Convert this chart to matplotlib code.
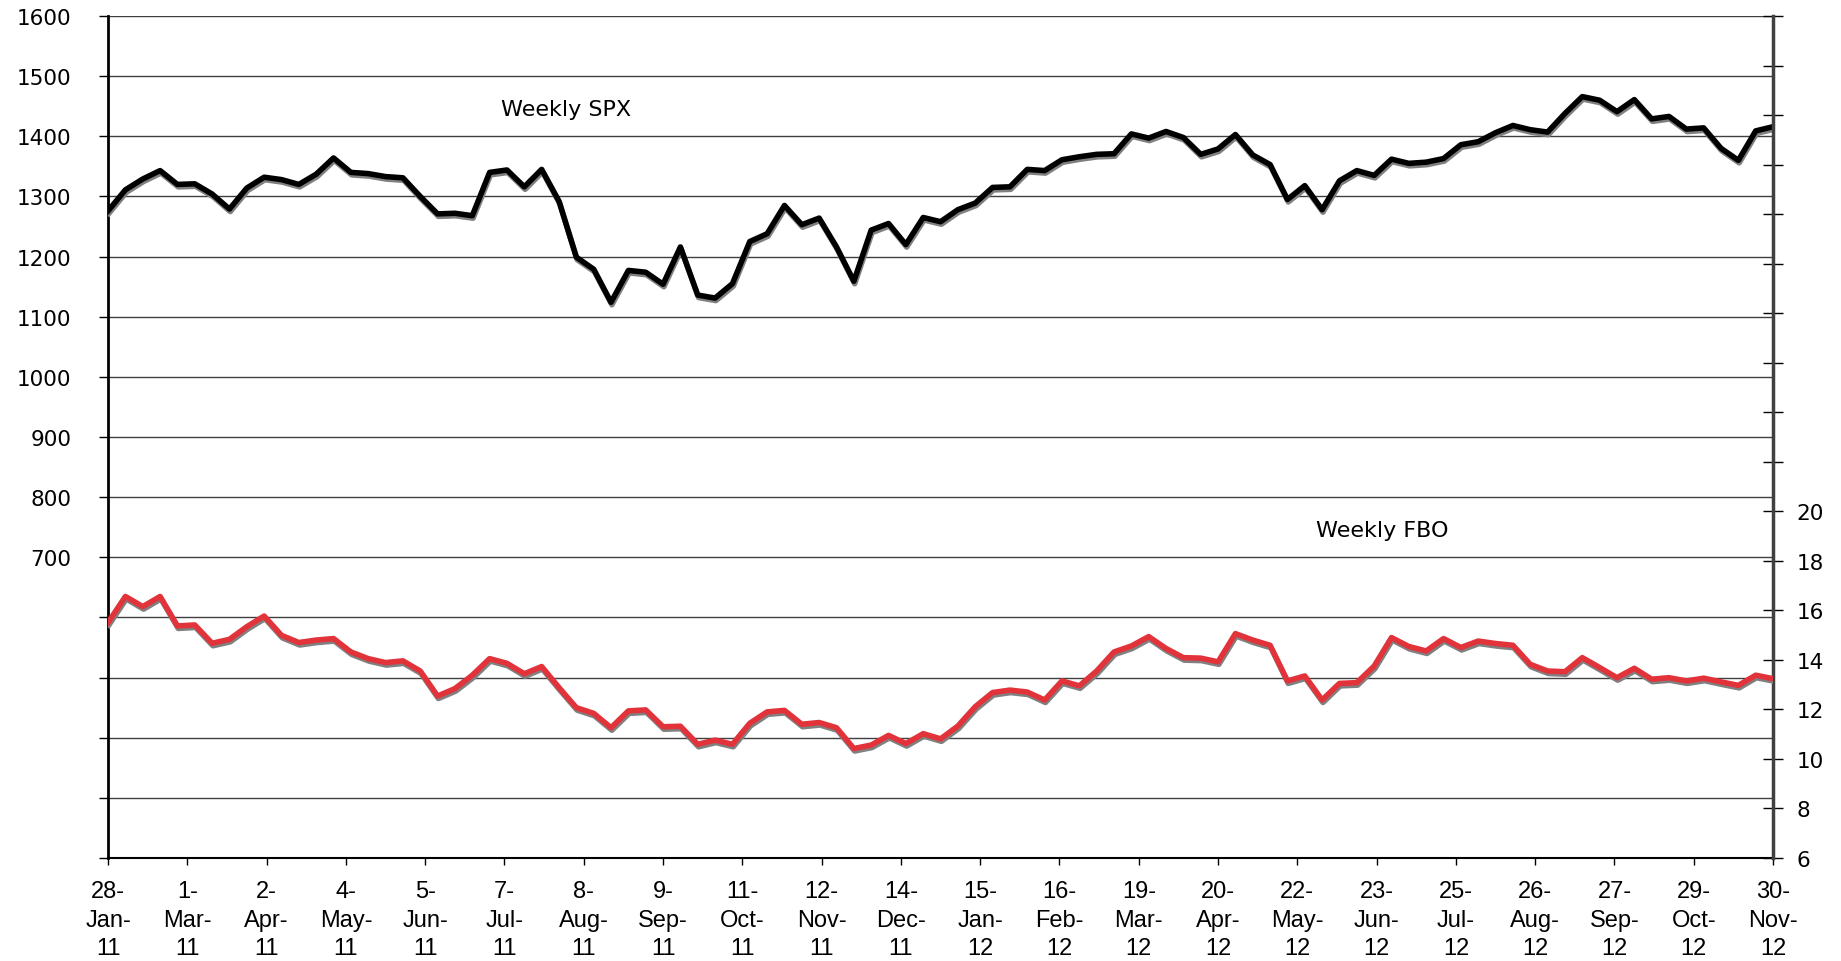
import numpy as np
import pandas as pd
import matplotlib
matplotlib.use("Agg")
import matplotlib.pyplot as plt
import matplotlib.patheffects as pe

# weekly closes, Fridays 28-Jan-11 .. 30-Nov-12
weeks = pd.date_range("2011-01-28", "2012-11-30", freq="7D")

spx = [1276, 1311, 1329, 1343, 1320, 1321, 1304, 1279, 1314, 1332,
       1328, 1320, 1337, 1364, 1340, 1338, 1333, 1331, 1300, 1271,
       1272, 1268, 1340, 1344, 1316, 1345, 1292, 1199, 1179, 1124,
       1177, 1174, 1154, 1216, 1136, 1131, 1155, 1225, 1238, 1285,
       1253, 1264, 1216, 1159, 1244, 1255, 1220, 1265, 1258, 1278,
       1289, 1315, 1316, 1345, 1343, 1361, 1366, 1370, 1371, 1404,
       1397, 1408, 1398, 1370, 1379, 1403, 1369, 1353, 1295, 1318,
       1278, 1326, 1343, 1335, 1362, 1355, 1357, 1363, 1386, 1391,
       1406, 1418, 1411, 1407, 1438, 1466, 1460, 1441, 1461, 1429,
       1433, 1412, 1414, 1380, 1360, 1409, 1416]

fbo = [15.51, 16.56, 16.15, 16.56, 15.37, 15.41, 14.67, 14.83, 15.34, 15.77,
       14.99, 14.70, 14.80, 14.86, 14.32, 14.05, 13.89, 13.96, 13.55, 12.54,
       12.84, 13.38, 14.05, 13.86, 13.44, 13.73, 12.88, 12.07, 11.84, 11.26,
       11.94, 11.98, 11.30, 11.32, 10.59, 10.76, 10.59, 11.44, 11.90, 11.96,
       11.40, 11.47, 11.26, 10.42, 10.56, 10.95, 10.62, 11.02, 10.81, 11.33,
       12.11, 12.68, 12.78, 12.70, 12.38, 13.15, 12.95, 13.55, 14.32, 14.56,
       14.94, 14.46, 14.09, 14.07, 13.92, 15.06, 14.80, 14.59, 13.15, 13.35,
       12.38, 13.05, 13.08, 13.75, 14.90, 14.54, 14.36, 14.86, 14.50, 14.76,
       14.66, 14.59, 13.82, 13.55, 13.52, 14.09, 13.69, 13.28, 13.66, 13.22,
       13.28, 13.15, 13.26, 13.11, 12.97, 13.38, 13.24]

tick_dates = pd.date_range("2011-01-28", "2012-11-30", freq="32D")
tick_labels = ["28-\nJan-\n11", "1-\nMar-\n11", "2-\nApr-\n11", "4-\nMay-\n11",
               "5-\nJun-\n11", "7-\nJul-\n11", "8-\nAug-\n11", "9-\nSep-\n11",
               "11-\nOct-\n11", "12-\nNov-\n11", "14-\nDec-\n11", "15-\nJan-\n12",
               "16-\nFeb-\n12", "19-\nMar-\n12", "20-\nApr-\n12", "22-\nMay-\n12",
               "23-\nJun-\n12", "25-\nJul-\n12", "26-\nAug-\n12", "27-\nSep-\n12",
               "29-\nOct-\n12", "30-\nNov-\n12"]

left_ticks = np.arange(200, 1601, 100)
right_ticks = np.arange(6, 41, 2)

shadow = [pe.SimpleLineShadow(offset=(0.6, -1.8), shadow_color="#808080", alpha=1.0),
          pe.Normal()]

fig = plt.figure(figsize=(18.41, 9.62), dpi=100)
ax = fig.add_axes([0.0587, 0.1071, 0.9044, 0.8752])
ax2 = ax.twinx()

ax.plot(weeks, spx, color="black", lw=4.0, path_effects=shadow, zorder=3)
ax2.plot(weeks, fbo, color="#e2323a", lw=4.0, path_effects=shadow, zorder=3)

ax.set_xlim(weeks[0], weeks[-1])
ax.set_ylim(200, 1600)
ax2.set_ylim(6, 40)

ax.set_yticks(left_ticks)
ax.set_yticklabels([str(v) if v >= 700 else "" for v in left_ticks])
ax2.set_yticks(right_ticks)
ax2.set_yticklabels([str(v) if v <= 20 else "" for v in right_ticks])

ax.set_xticks(tick_dates)
ax.set_xticklabels(tick_labels, family="Liberation Sans", fontsize=17,
                   linespacing=1.38)

ax.grid(axis="y", color="#404040", lw=1.0)
ax.grid(axis="x", visible=False)
ax.set_axisbelow(True)

for a in (ax, ax2):
    a.spines["top"].set_visible(False)
ax2.spines["left"].set_visible(False)
ax2.spines["bottom"].set_visible(False)
ax.spines["right"].set_visible(False)
ax.spines["left"].set_linewidth(2)
ax.spines["bottom"].set_linewidth(1.5)
ax2.spines["right"].set_linewidth(2.5)
ax2.spines["right"].set_color("#404040")

ax.tick_params(axis="y", direction="out", length=6.5, width=1, pad=20,
               labelsize=15.5, colors="black")
ax.tick_params(axis="x", direction="out", length=5, width=1, pad=11)
ax2.tick_params(axis="y", direction="inout", length=14, width=1, pad=10,
                labelsize=15.5)

ax.text(0.236, 0.890, "Weekly SPX", transform=ax.transAxes, fontsize=16,
        va="center", ha="left")
ax.text(0.7255, 0.389, "Weekly FBO", transform=ax.transAxes, fontsize=16,
        va="center", ha="left")

fig.savefig("out.png", dpi=100)
